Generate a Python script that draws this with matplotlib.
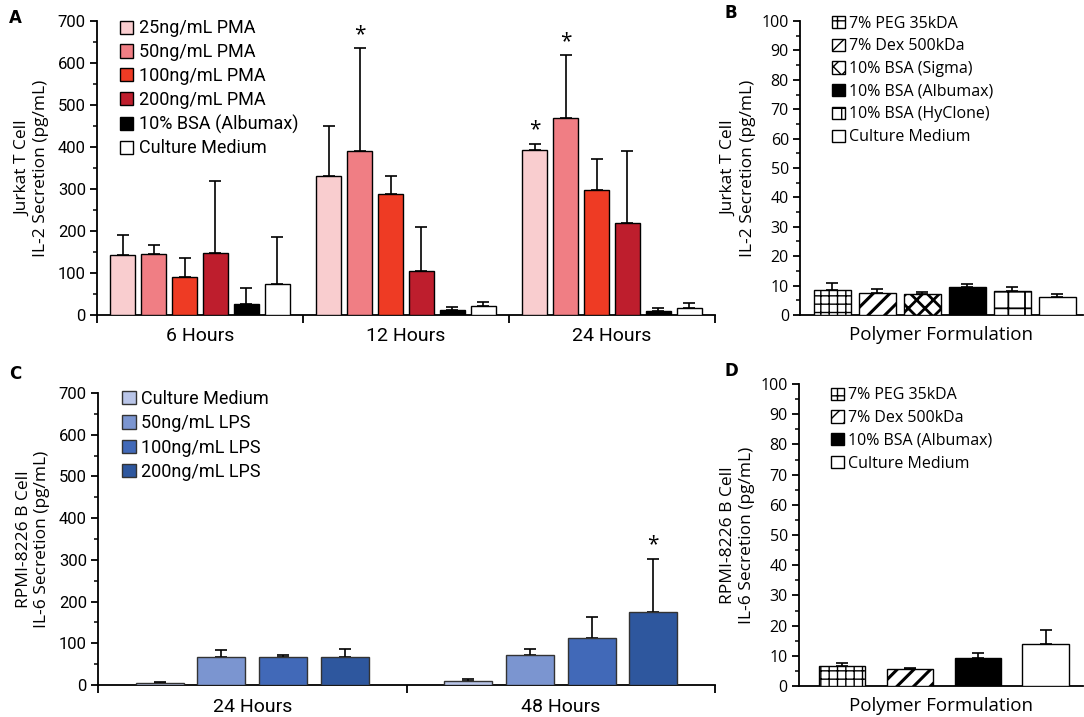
import matplotlib
matplotlib.use('Agg')
import matplotlib.pyplot as plt
from matplotlib.patches import Patch
import numpy as np

plt.rcParams['font.family'] = ['Open Sans', 'DejaVu Sans']
plt.rcParams['hatch.linewidth'] = 1.0
narrow = ['Roboto', 'DejaVu Sans']

# Panel A - Jurkat IL-2 vs PMA
a_groups = ['6 Hours', '12 Hours', '24 Hours']
a_labels = ['25ng/mL PMA', '50ng/mL PMA', '100ng/mL PMA', '200ng/mL PMA',
            '10% BSA (Albumax)', 'Culture Medium']
a_colors = ['#F9CDCF', '#F07E84', '#EE3B24', '#BE1E2D', '#000000', '#FFFFFF']
a_vals = [[142, 145, 90, 147, 27, 73],
          [330, 390, 287, 104, 11, 22],
          [393, 470, 298, 220, 10, 16]]
a_errtop = [[191, 166, 136, 320, 65, 186],
            [450, 635, 332, 210, 18, 30],
            [408, 618, 372, 390, 17, 28]]
a_stars = [(1, 1), (2, 0), (2, 1)]

# Panel B - Jurkat IL-2 vs polymer
b_labels = ['7% PEG 35kDA', '7% Dex 500kDa', '10% BSA (Sigma)',
            '10% BSA (Albumax)', '10% BSA (HyClone)', 'Culture Medium']
b_vals = [8.5, 7.5, 7.1, 9.6, 8.3, 6.1]
b_errtop = [11.0, 8.8, 7.8, 10.7, 9.6, 7.2]

# Panel C - RPMI IL-6 vs LPS
c_groups = ['24 Hours', '48 Hours']
c_labels = ['Culture Medium', '50ng/mL LPS', '100ng/mL LPS', '200ng/mL LPS']
c_colors = ['#B9C5E8', '#7B95D0', '#4169B8', '#2E579E']
c_vals = [[5, 66, 66, 67],
          [10, 72, 113, 174]]
c_errtop = [[7, 84, 72, 86],
            [14, 87, 162, 302]]
c_stars = [(1, 3)]

# Panel D - RPMI IL-6 vs polymer
d_labels = ['7% PEG 35kDA', '7% Dex 500kDa', '10% BSA (Albumax)', 'Culture Medium']
d_vals = [6.6, 5.5, 9.3, 14.0]
d_errtop = [7.6, 6.0, 10.8, 18.6]

# styles for polymer formulations
poly_style = {
    '7% PEG 35kDA': dict(color='white', hatch='++', lw=1.0),
    '7% Dex 500kDa': dict(color='white', hatch='//', lw=2.2),
    '10% BSA (Sigma)': dict(color='white', hatch='xx', lw=2.0),
    '10% BSA (Albumax)': dict(color='black', hatch=None, lw=1.0),
    '10% BSA (HyClone)': dict(color='white', hatch='+', lw=1.3),
    'Culture Medium': dict(color='white', hatch=None, lw=1.0),
}

fig = plt.figure(figsize=(10.84, 7.17), dpi=100)
axA = fig.add_axes([0.0895, 0.5607, 0.5701, 0.41])
axB = fig.add_axes([0.738, 0.5607, 0.261, 0.41])
axC = fig.add_axes([0.0904, 0.0446, 0.5692, 0.4073])
axD = fig.add_axes([0.737, 0.0432, 0.262, 0.4212])


def style_axes(ax, ymax, major, minor, tickfont, size):
    for s in ['top', 'right']:
        ax.spines[s].set_visible(False)
    ax.spines['left'].set_linewidth(1.3)
    ax.spines['bottom'].set_linewidth(1.3)
    ax.set_ylim(0, ymax)
    ax.set_yticks(np.arange(0, ymax + 1, major))
    ax.set_yticks(np.arange(0, ymax + 1, minor), minor=True)
    ax.tick_params(axis='y', which='major', length=5, width=1.3, labelsize=size, pad=3)
    ax.tick_params(axis='y', which='minor', length=3, width=1.1)
    for t in ax.get_yticklabels():
        t.set_family(tickfont)


def grouped(ax, groups, vals, errtop, colors, spacing, width, stars, edge):
    n = len(vals[0])
    for gi in range(len(groups)):
        for i in range(n):
            x = gi + (i - (n - 1) / 2) * spacing
            v = vals[gi][i]
            ax.bar(x, v, width, color=colors[i], edgecolor=edge, linewidth=1.0, zorder=3)
            ax.errorbar(x, v, yerr=[[0], [errtop[gi][i] - v]], fmt='none',
                        ecolor='black', elinewidth=1.2, capsize=4, capthick=1.2, zorder=2)
            if (gi, i) in stars:
                ax.text(x, errtop[gi][i] + 8, '*', ha='center', va='bottom', fontsize=15)
    ax.set_xlim(-0.5, len(groups) - 0.5)
    ax.set_xticks(np.arange(len(groups) + 1) - 0.5)
    ax.set_xticklabels([])
    ax.tick_params(axis='x', which='major', length=6, width=1.3, direction='out')
    ax.set_xticks(np.arange(len(groups)), minor=True)
    ax.set_xticklabels(groups, minor=True, family=narrow, fontsize=14)
    ax.tick_params(axis='x', which='minor', length=0, pad=9)


def polymer(ax, labels, vals, errtop, width, xlim):
    for i, lab in enumerate(labels):
        st = poly_style[lab]
        with plt.rc_context({'hatch.linewidth': st['lw']}):
            ax.bar(i, vals[i], width, color=st['color'], edgecolor='black',
                   hatch=st['hatch'], linewidth=1.0, zorder=3)
        ax.errorbar(i, vals[i], yerr=[[0], [errtop[i] - vals[i]]], fmt='none',
                    ecolor='black', elinewidth=1.2, capsize=4, capthick=1.2, zorder=2)
    ax.set_xlim(*xlim)
    ax.set_xticks([])
    ax.set_xlabel('Polymer Formulation', fontsize=13.5, labelpad=8)


def poly_handles(labels):
    hs = []
    for lab in labels:
        st = poly_style[lab]
        with plt.rc_context({'hatch.linewidth': min(st['lw'], 1.2)}):
            hs.append(Patch(facecolor=st['color'], edgecolor='black',
                            hatch=st['hatch'], linewidth=1.0))
    return hs


# A
grouped(axA, a_groups, a_vals, a_errtop, a_colors, 0.15, 0.12, a_stars, 'black')
style_axes(axA, 700, 100, 50, narrow, 12)
axA.set_ylabel('Jurkat T Cell\nIL-2 Secretion (pg/mL)', fontsize=12.5, labelpad=6)
hA = [Patch(facecolor=c, edgecolor='black', linewidth=1.0) for c in a_colors]
axA.legend(hA, a_labels, loc='upper left', bbox_to_anchor=(0.025, 1.03), frameon=False,
           prop={'family': narrow, 'size': 13}, handlelength=0.75, handleheight=0.75,
           handletextpad=0.3, labelspacing=0.32, borderaxespad=0)

# B
polymer(axB, b_labels, b_vals, b_errtop, 0.82, (-0.72, 5.57))
style_axes(axB, 100, 10, 5, ['Open Sans', 'DejaVu Sans'], 11.5)
axB.set_ylabel('Jurkat T Cell\nIL-2 Secretion (pg/mL)', fontsize=12.5, labelpad=4)
axB.legend(poly_handles(b_labels), b_labels, loc='upper left', bbox_to_anchor=(0.09, 1.04),
           frameon=False, prop={'size': 11.5}, handlelength=0.8, handleheight=0.8,
           handletextpad=0.3, labelspacing=0.42, borderaxespad=0)

# C
grouped(axC, c_groups, c_vals, c_errtop, c_colors, 0.2, 0.156, c_stars, '#333333')
style_axes(axC, 700, 100, 50, narrow, 12)
axC.set_ylabel('RPMI-8226 B Cell\nIL-6 Secretion (pg/mL)', fontsize=12.5, labelpad=6)
hC = [Patch(facecolor=c, edgecolor='#333333', linewidth=1.0) for c in c_colors]
axC.legend(hC, c_labels, loc='upper left', bbox_to_anchor=(0.028, 1.035), frameon=False,
           prop={'family': narrow, 'size': 13}, handlelength=0.75, handleheight=0.75,
           handletextpad=0.3, labelspacing=0.35, borderaxespad=0)

# D
polymer(axD, d_labels, d_vals, d_errtop, 0.68, (-0.63, 3.55))
style_axes(axD, 100, 10, 5, ['Open Sans', 'DejaVu Sans'], 11.5)
axD.set_ylabel('RPMI-8226 B Cell\nIL-6 Secretion (pg/mL)', fontsize=12.5, labelpad=4)
axD.legend(poly_handles(d_labels), d_labels, loc='upper left', bbox_to_anchor=(0.09, 1.01),
           frameon=False, prop={'size': 11.5}, handlelength=0.8, handleheight=0.8,
           handletextpad=0.3, labelspacing=0.42, borderaxespad=0)

for lab, (x, y) in zip('ABCD', [(0.008, 0.975), (0.668, 0.982), (0.008, 0.478), (0.668, 0.482)]):
    fig.text(x, y, lab, fontsize=12, fontweight='bold', family='DejaVu Sans', va='center')

fig.savefig('out.png', dpi=100)
